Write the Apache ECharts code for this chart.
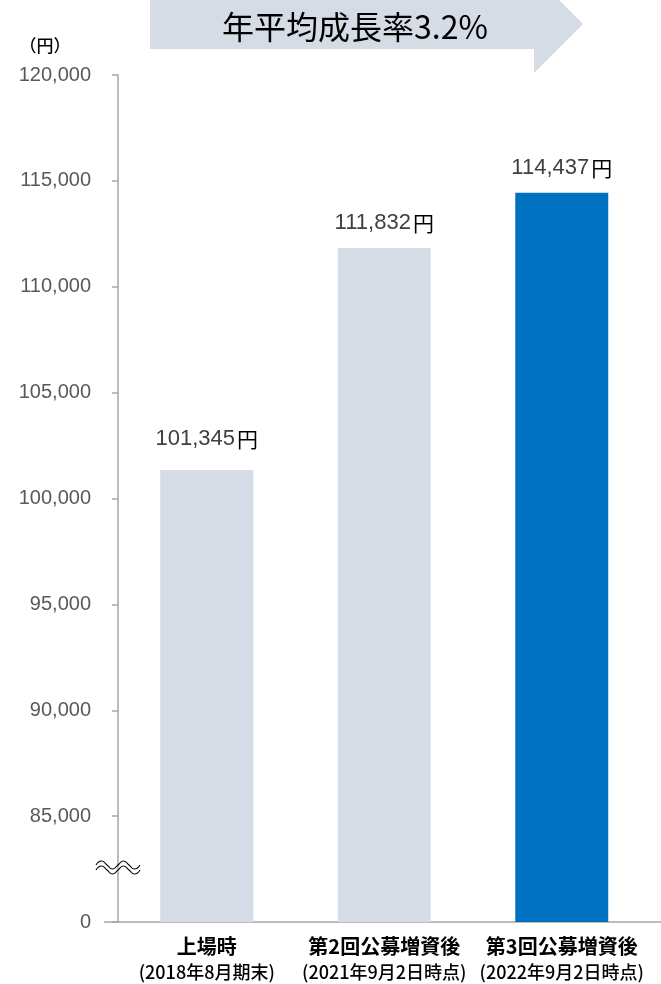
<!DOCTYPE html>
<html>
<head>
<meta charset="utf-8">
<script src="https://cdn.jsdelivr.net/npm/echarts@6/dist/echarts.min.js"></script>
<style>
html, body { margin: 0; padding: 0; background: #fff; }
#main { width: 661px; height: 984px; }
</style>
</head>
<body>
<div id="main"></div>
<script>
// 一株当たりNAV（円）
var categories = ['上場時', '第2回公募増資後', '第3回公募増資後'];
var periods = ['(2018年8月期末)', '(2021年9月2日時点)', '(2022年9月2日時点)'];
var values = [101345, 111832, 114437];
var labelGaps = [20, 14, 14];
// 軸は途中省略：80,000 の位置に「0」を表示
var axisMin = 80000, axisMax = 120000, axisStep = 5000;
var unitLabel = '（円）';
var headline = '年平均成長率3.2%';

var font = '"Liberation Sans", Arial, "Noto Sans CJK JP", sans-serif';
var jpFont = '"Noto Sans CJK JP", sans-serif';

var chart = echarts.init(document.getElementById('main'));

// 省略記号（波線）
function wave(y0) {
    var pts = [];
    for (var k = 0; k <= 8; k++) {
        pts.push([96 + k * 5.5, y0 + (k % 2 === 0 ? 0 : (k % 4 === 1 ? -4 : 4))]);
    }
    return pts;
}

var option = {
    animation: false,
    grid: { left: 118, right: 10.5, top: 75, bottom: 62 },
    xAxis: {
        type: 'category',
        data: categories,
        axisLine: { show: false },
        axisTick: { show: false },
        axisLabel: {
            interval: 0,
            margin: 11,
            formatter: function (v, i) {
                return '{a|' + v + '}\n{b|' + periods[i] + '}';
            },
            rich: {
                a: { fontFamily: jpFont, fontSize: 20, fontWeight: 'bold', color: '#000', lineHeight: 26 },
                b: { fontFamily: jpFont, fontSize: 18, fontWeight: 500, color: '#000', lineHeight: 26 }
            }
        }
    },
    yAxis: {
        type: 'value',
        min: axisMin,
        max: axisMax,
        interval: axisStep,
        splitLine: { show: false },
        axisLine: { show: true, lineStyle: { color: '#A6A6A6', width: 1.5 } },
        axisTick: { show: true, length: 6, lineStyle: { color: '#A6A6A6', width: 1.5 } },
        axisLabel: {
            margin: 27,
            fontFamily: font,
            fontSize: 20,
            color: '#595959',
            formatter: function (v) {
                return v === axisMin ? '0' : echarts.format.addCommas(v);
            }
        }
    },
    series: [{
        type: 'bar',
        barWidth: 93,
        data: values.map(function (v, i) {
            return { value: v, label: { distance: labelGaps[i] } };
        }),
        itemStyle: {
            color: function (p) {
                return p.dataIndex === values.length - 1 ? '#0070C0' : '#D6DCE5';
            }
        },
        label: {
            show: true,
            position: 'top',
            formatter: function (p) {
                return '{n|' + echarts.format.addCommas(p.value) + '}{u|円}';
            },
            rich: {
                n: { fontFamily: font, fontSize: 22, color: '#404040' },
                u: { fontFamily: jpFont, fontSize: 21, color: '#000', padding: [0, 0, 0, 2] }
            }
        }
    }],
    graphic: [
        {
            type: 'polygon',
            shape: { points: [[150, -1], [534, -1], [534, -25], [583, 24], [534, 73], [534, 49], [150, 49]] },
            style: { fill: '#D6DCE5' }
        },
        {
            type: 'text',
            x: 355, y: 27,
            style: {
                text: headline,
                font: '32px ' + jpFont,
                fill: '#000',
                align: 'center',
                verticalAlign: 'middle'
            }
        },
        {
            type: 'text',
            x: 45, y: 46,
            style: {
                text: unitLabel,
                font: '500 17px ' + jpFont,
                fill: '#000',
                align: 'center',
                verticalAlign: 'middle'
            }
        },
        {
            type: 'line',
            shape: { x1: 104, y1: 922, x2: 661, y2: 922 },
            style: { stroke: '#A6A6A6', lineWidth: 1.5 }
        },
        {
            type: 'polyline',
            z: 10,
            shape: { points: wave(865), smooth: 0.6 },
            style: { stroke: '#000', fill: null, lineWidth: 1.1 }
        },
        {
            type: 'polyline',
            z: 10,
            shape: { points: wave(870), smooth: 0.6 },
            style: { stroke: '#000', fill: null, lineWidth: 1.1 }
        }
    ]
};

chart.setOption(option);
</script>
</body>
</html>
